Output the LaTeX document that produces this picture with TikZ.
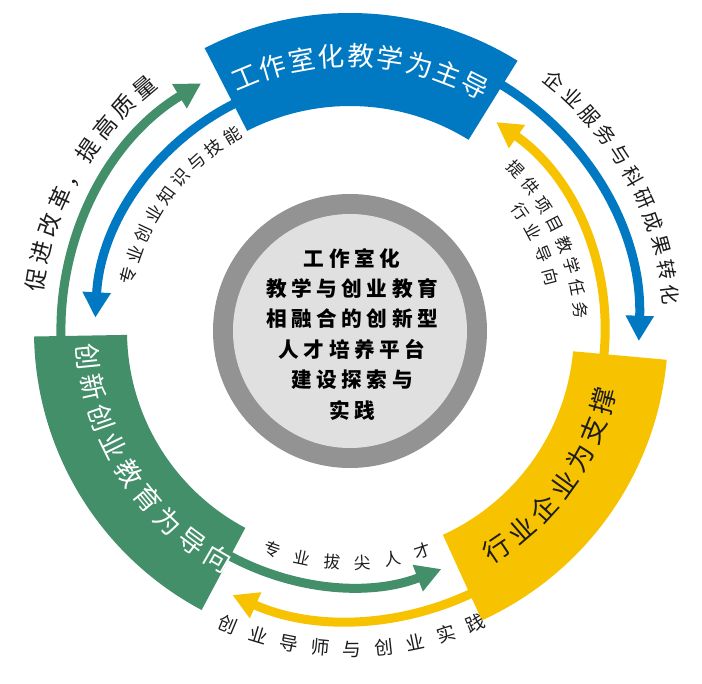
\documentclass[tikz,border=0pt]{standalone}
\usepackage{fontspec}
\setmainfont{Noto Sans CJK SC}
\usetikzlibrary{arrows.meta}
\definecolor{cblue}{RGB}{0,121,194}
\definecolor{cgreen}{RGB}{66,143,106}
\definecolor{cyellow}{RGB}{247,195,0}
\definecolor{cgray}{RGB}{147,147,147}
\definecolor{clight}{RGB}{224,224,224}
\definecolor{ctext}{RGB}{28,28,28}
\newcommand\arcchars[7]{%
  \foreach \ch [count=\i] in {#7} {%
    \pgfmathsetmacro\ang{#3+(\i-1)*(#4)}%
    \node[#6, rotate={\ang+(#5)}] (#1-\i) at (\ang:#2) {\ch};
  }}
\def\g{\kern0.22em}
\tikzset{
  x=0.75pt, y=0.75pt,
  chr/.style={inner sep=0pt, text height=0.88em, text depth=0.12em, anchor=center},
  blocktxt/.style={chr, font=\fontsize{20}{24}\selectfont},
  lbl/.style={chr, text=ctext},
  flow/.style={line width=6.75pt, draw=#1, -{Triangle[width=20pt,length=19pt]}},
}
\begin{document}
\begin{tikzpicture}
\useasboundingbox (-350,-353) rectangle (352,331);
\fill[white] (-350,-353) rectangle (352,331);
% central disc
\fill[cgray] (0,0) circle[radius=137];
\fill[clight] (0,0) circle[radius=117];
% arcs (drawn below the blocks)
\draw[flow=cblue] (70:289) arc[start angle=70, end angle=-2, radius=289];
\draw[flow=cyellow] (-15:255) arc[start angle=-15, end angle=55, radius=255];
\draw[flow=cgreen] (190:289) arc[start angle=190, end angle=121, radius=289];
\draw[flow=cblue] (110:255) arc[start angle=110, end angle=177, radius=255];
\draw[flow=cgreen] (235:255) arc[start angle=235, end angle=291, radius=255];
\draw[flow=cyellow] (305:289) arc[start angle=305, end angle=246, radius=289];
% blocks
\fill[cblue] (58.2:225) arc[start angle=58.2, end angle=117.2, radius=225]
  -- (117.2:318) arc[start angle=117.2, end angle=58.2, radius=318] -- cycle;
\fill[cgreen] (181:223) arc[start angle=181, end angle=242, radius=223]
  -- (242:316) arc[start angle=242, end angle=181, radius=316] -- cycle;
\fill[cyellow] (-65.5:224) arc[start angle=-65.5, end angle=-5.2, radius=224]
  -- (-5.2:318) arc[start angle=-5.2, end angle=-65.5, radius=318] -- cycle;
% block texts
\arcchars{tb}{270}{112.5}{-6.19}{-90}{blocktxt, text=white}{工,作,室,化,教,学,为,主,导}
\arcchars{tg}{268}{185.7}{6.78}{90}{blocktxt, text=white}{创,新,创,业,教,育,为,导,向}
\arcchars{ty}{268}{304}{6.78}{90}{blocktxt, text=ctext}{行,业,企,业,为,支,撑}
% labels
\arcchars{la}{315}{170.7}{-5.06}{-90}{lbl, font=\fontsize{17}{20}\selectfont}{促,进,改,革,，,提,高,质,量}
\arcchars{lb}{227}{166}{-5.62}{-90}{lbl, font=\fontsize{13}{16}\selectfont}{专,业,创,业,知,识,与,技,能}
\arcchars{lc}{320}{50.8}{-4.43}{-90}{lbl, font=\fontsize{15}{18}\selectfont}{企,业,服,务,与,科,研,成,果,转,化}
\arcchars{ld}{230}{44.3}{-5.59}{-90}{lbl, font=\fontsize{12.5}{15}\selectfont}{提,供,项,目,教,学,任,务}
\arcchars{le}{207}{35}{-6.67}{-90}{lbl, font=\fontsize{12.5}{15}\selectfont}{行,业,导,向}
\arcchars{lf}{233}{250.4}{7.56}{90}{lbl, font=\fontsize{12.5}{15}\selectfont}{专,业,拔,尖,人,才}
\arcchars{lg}{320}{247.5}{5.72}{90}{lbl, font=\fontsize{14}{17}\selectfont}{创,业,导,师,与,创,业,实,践}
% centre text
\node[align=center, text=black, font=\fontsize{15.5}{22.8}\selectfont\bfseries] (centre) at (2,-3)
  {工\g 作\g 室\g 化\\ 教\g 学\g 与\g 创\g 业\g 教\g 育\\ 相\g 融\g 合\g 的\g 创\g 新\g 型\\ 人\g 才\g 培\g 养\g 平\g 台\\ 建\g 设\g 探\g 索\g 与\\ 实\g 践};
\end{tikzpicture}
\end{document}
